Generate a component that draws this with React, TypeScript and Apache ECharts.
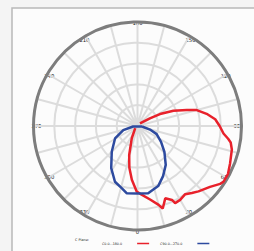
import React, { useEffect, useRef } from "react";
import * as echarts from "echarts";

// C0 / C180 plane (red): polar angle (0 = bottom, counter-clockwise), intensity (relative)
const redAngles = [313, 335, 344, 349, 354, 359.3, 2, 10, 15, 17, 21, 25, 26, 30, 35, 39, 43, 50, 55, 57, 62, 68, 76, 80, 82, 85, 90, 95, 100, 105, 108, 113, 118, 122, 137];
const redValues = [3, 13, 29, 41, 52, 63, 65, 72, 78.5, 83, 74.5, 78.5, 82.5, 82, 80, 83, 86, 91, 97, 98.5, 98.5, 96, 93.5, 91, 88, 83, 79, 75, 67.5, 59, 50, 37.5, 24.5, 14, 3.5];

// C90 / C270 plane (blue)
const blueAngles = [84, 74, 67, 56, 46, 36, 27, 19, 9, 0, 351, 346, 338, 328, 315, 299, 286, 276, 84];
const blueValues = [4.4, 12.5, 20, 27.3, 36, 46.2, 54.1, 61.1, 65.5, 65, 65.5, 61.8, 57.8, 47.7, 35, 24.7, 14.2, 4.3, 4.4];

const seriesNames = ["C0.0...180.0", "C90.0...270.0"];
const seriesColors = ["#e8212b", "#2d4a9f"];
const angleLabelStep = 30;

export default function App() {
  const ref = useRef<HTMLDivElement>(null);
  useEffect(() => {
    if (!ref.current) return;
    const chart = echarts.init(ref.current, undefined, { renderer: "svg" });
    const red = redAngles.map((a, i) => [redValues[i], a]);
    const blue = blueAngles.map((a, i) => [blueValues[i], a]);
    chart.setOption({
      animation: false,
      backgroundColor: "#f4f4f4",
      graphic: [
        {
          type: "rect",
          z: -1,
          shape: { x: 12, y: 8, width: 262, height: 262 },
          style: { fill: "#fcfcfc", stroke: "#b8b8b8", lineWidth: 1.5 },
        },
        {
          type: "text",
          left: 75,
          top: 238.5,
          style: { text: "C Plane:", fontSize: 3.4, fill: "#222", fontFamily: "DejaVu Sans" },
        },
      ],
      polar: { center: [137.5, 126], radius: 104 },
      angleAxis: {
        type: "value",
        min: 0,
        max: 360,
        interval: 15,
        startAngle: 270,
        clockwise: false,
        axisLine: { show: true, lineStyle: { color: "#7d7d7d", width: 3 } },
        axisTick: { show: false },
        axisLabel: {
          margin: -8,
          fontSize: 5.3,
          color: "#1a1a1a",
          fontFamily: "DejaVu Sans",
          formatter: (v: number) => {
            if (v >= 360 || v % angleLabelStep !== 0) return "";
            if (v === 180) return "{t|180}";
            if (v === 0) return "{b|0}";
            return String(v);
          },
          rich: {
            t: { fontSize: 5.3, color: "#1a1a1a", fontFamily: "DejaVu Sans", padding: [0, 0, 5, 0] },
            b: { fontSize: 5.3, color: "#1a1a1a", fontFamily: "DejaVu Sans", padding: [7, 0, 0, 0] },
          },
        },
        splitLine: { show: true, lineStyle: { color: "#dcdcdc", width: 2 } },
      },
      radiusAxis: {
        type: "value",
        min: 0,
        max: 100,
        interval: 20,
        axisLine: { show: false },
        axisTick: { show: false },
        axisLabel: { show: false },
        splitLine: { show: true, lineStyle: { color: "#dcdcdc", width: 2 } },
      },
      legend: {
        data: seriesNames,
        left: 97,
        top: 237,
        align: "right",
        icon: "rect",
        itemWidth: 12,
        itemHeight: 1.5,
        itemGap: 11,
        textStyle: { fontSize: 3.3, color: "#222", fontFamily: "DejaVu Sans", padding: [0, 10, 0, 0] },
      },
      series: [
        {
          name: seriesNames[0],
          type: "line",
          coordinateSystem: "polar",
          data: red,
          symbol: "none",
          lineStyle: { color: seriesColors[0], width: 2.5 },
          itemStyle: { color: seriesColors[0] },
        },
        {
          name: seriesNames[1],
          type: "line",
          coordinateSystem: "polar",
          data: blue,
          symbol: "none",
          lineStyle: { color: seriesColors[1], width: 2.5 },
          itemStyle: { color: seriesColors[1] },
        },
      ],
    });
    return () => chart.dispose();
  }, []);
  return <div ref={ref} style={{ position: "fixed", left: 0, top: 0, width: 254, height: 251 }} />;
}
